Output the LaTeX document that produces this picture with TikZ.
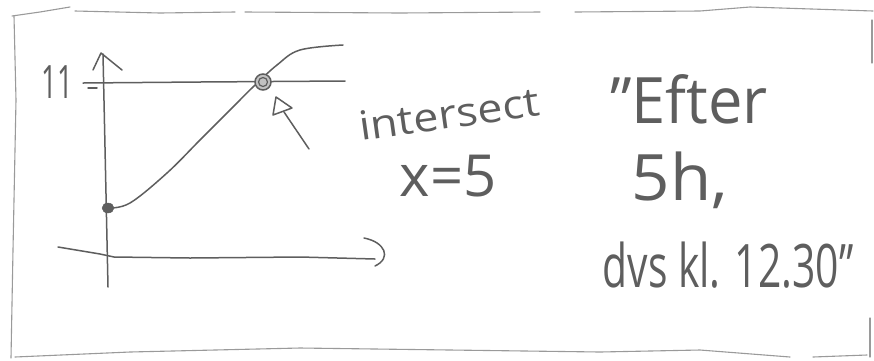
\documentclass[tikz,border=0pt]{standalone}
\usepackage{fontspec}
\setmainfont{Open Sans}
\usetikzlibrary{calc,shapes.geometric}
\definecolor{pencil}{HTML}{5E5E5E}
\definecolor{pencillight}{HTML}{9A9A9A}
\tikzset{
  stroke/.style={draw=pencil, line width=1.5pt, line cap=round, line join=round},
  frameline/.style={draw=pencillight, line width=1.1pt, line cap=round, line join=round},
  hand/.style={text=pencil, inner sep=0pt, anchor=base, text height=0.72em, text depth=0.02em},
}
\newcommand{\hfs}[1]{\fontsize{#1}{#1}\selectfont}
\begin{document}
\begin{tikzpicture}[x=1pt,y=-1pt]
\useasboundingbox (0,0) rectangle (874,360);
% frame
\draw[frameline] (12,16) -- (40,12) -- (70,7);
\draw[frameline] (75,11) -- (160,13) -- (235,12);
\draw[frameline] (245,12) -- (400,13) -- (540,12);
\draw[frameline] (575,12) -- (700,11) -- (750,7) -- (873,11);
\draw[frameline] (872,20) -- (872,63);
\draw[frameline] (14,16) -- (16,100) -- (13,250) -- (11,358);
\draw[frameline] (15,357) -- (130,352) -- (300,348) -- (450,350) -- (600,352) -- (700,350) -- (790,357);
\draw[frameline] (813,357) -- (867,355);
\draw[frameline] (870,318) -- (870,357);
% axes
\coordinate (ytop) at (103,54);
\coordinate (ybot) at (108,287);
\draw[stroke] (ybot) -- (ytop);
\draw[stroke] (93,70) -- (101,53) -- (122,70);
\draw[stroke] (58,247) -- (100,254) -- (114,257) -- (190,258) -- (300,257) -- (375,259);
\draw[stroke] (364,238) .. controls (385,242) and (392,258) .. (375,266);
% level line
\draw[stroke] (83,83) -- (200,82) -- (345,81);
\draw[stroke] (88,88) -- (97,88);
\node[hand, font=\hfs{46}] (eleven) at (57,98) {\scalebox{0.6}[1]{11}};
% curve
\draw[stroke] plot[smooth, tension=0.6] coordinates {(108,208) (130,203) (167,173) (200,140) (233,107) (253,87) (277,65) (300,50) (343,45)};
\node[fill=pencil, draw=pencil, ellipse, minimum width=12pt, minimum height=10pt, inner sep=0pt] (start) at (108,208) {};
\node[draw=pencil, line width=1.5pt, circle, minimum size=16pt, inner sep=0pt, fill=pencillight!60] (cross) at (263,82) {};
\draw[pencil, line width=1.2pt] (263,82) circle (4.5);
% pointer arrow
\coordinate (ptail) at (309,149);
\coordinate (ptip) at (276,97);
\draw[stroke] (ptip) -- (273,115) -- (292,108) -- cycle;
\draw[stroke] (284,112) -- (ptail);
% texts
\node[hand, font=\hfs{40}, rotate=8] (intersect) at (451,128) {\scalebox{1.12}[1]{intersect}};
\node[hand, font=\hfs{58}] (x5) at (448,196) {x=5};
\node[hand, font=\hfs{64}] (efter) at (689,123) {\scalebox{0.96}[1]{"Efter}};
\node[hand, font=\hfs{64}] (fiveh) at (680,200) {\scalebox{1.05}[1]{5h,}};
\node[hand, font=\hfs{60}] (dvs) at (728,287) {\scalebox{0.68}[1]{dvs kl. 12.30"}};
\end{tikzpicture}
\end{document}
